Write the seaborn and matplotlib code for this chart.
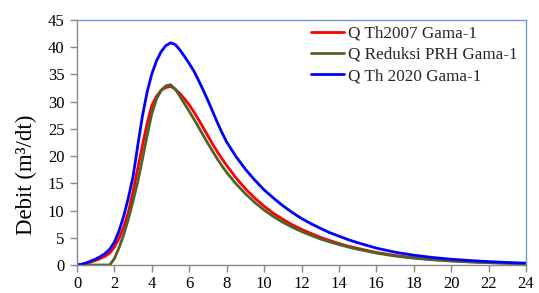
import numpy as np
import pandas as pd
import matplotlib
matplotlib.use("Agg")
import matplotlib.pyplot as plt
import seaborn as sns

# Time (hours)
t = ([0, 0.25, 0.5, 0.75, 1, 1.25, 1.5, 1.75, 2, 2.25, 2.5, 2.75, 3, 3.25, 3.5, 3.75,
      4, 4.25, 4.5, 4.75, 5, 5.25, 5.5, 5.75, 6, 6.25, 6.5, 6.75, 7, 7.25, 7.5, 7.75, 8]
     + [8.5, 9, 9.5, 10, 10.5, 11, 11.5, 12, 12.5, 13, 13.5, 14, 14.5]
     + [15, 16, 17, 18, 19, 20, 21, 22, 23, 24])

q_2007 = ([0, 0.1, 0.3, 0.55, 0.85, 1.2, 1.6, 2.2, 3.3, 4.9, 7.0, 9.8, 13.5, 17.8, 22.0, 26.0,
           29.3, 31.0, 32.1, 32.6, 32.8, 32.3, 31.5, 30.5, 29.4, 28.1, 26.7, 25.2, 23.7, 22.2, 20.8, 19.5, 18.3]
          + [16.0, 14.0, 12.3, 10.8, 9.5, 8.4, 7.4, 6.55, 5.8, 5.1, 4.5, 3.95, 3.45]
          + [3.05, 2.3, 1.75, 1.33, 1.02, 0.78, 0.6, 0.45, 0.34, 0.26])

q_prh = ([0, 0, 0, 0, 0, 0, 0, 0, 1.2, 3.2, 5.6, 8.5, 11.8, 15.3, 19.5, 23.8,
          27.8, 30.5, 32.1, 32.9, 33.1, 32.3, 31.0, 29.6, 28.2, 26.8, 25.3, 23.8, 22.3, 20.9, 19.5, 18.2, 17.0]
         + [14.9, 13.1, 11.5, 10.1, 8.9, 7.85, 6.95, 6.15, 5.45, 4.8, 4.25, 3.75, 3.3]
         + [2.9, 2.2, 1.65, 1.25, 0.96, 0.73, 0.56, 0.42, 0.32, 0.24])

q_2020 = ([0, 0.15, 0.4, 0.75, 1.1, 1.55, 2.1, 2.9, 4.2, 6.3, 9.0, 12.4, 16.3, 22.0, 27.4, 31.8,
           35.1, 37.5, 39.2, 40.3, 40.8, 40.5, 39.5, 38.3, 37.0, 35.6, 33.9, 32.1, 30.2, 28.2, 26.2, 24.3, 22.6]
          + [19.9, 17.6, 15.6, 13.8, 12.3, 10.9, 9.65, 8.55, 7.6, 6.75, 5.95, 5.3, 4.65]
          + [4.1, 3.1, 2.35, 1.8, 1.38, 1.06, 0.82, 0.62, 0.46, 0.34])

labels = ["Q Th2007 Gama-1", "Q Reduksi PRH Gama-1", "Q Th 2020 Gama-1"]
colors = ["#FF0000", "#4F6228", "#0000FF"]

df = pd.concat([
    pd.DataFrame({"t": t, "q": q_2007, "seri": labels[0]}),
    pd.DataFrame({"t": t, "q": q_prh, "seri": labels[1]}),
    pd.DataFrame({"t": t, "q": q_2020, "seri": labels[2]}),
], ignore_index=True)

sns.set_theme(style="white")
plt.rcParams["font.family"] = ["Liberation Serif", "DejaVu Serif"]

fig = plt.figure(figsize=(5.39, 2.93), dpi=100)
ax = fig.add_axes([77 / 539, 28 / 293, (526 - 77) / 539, (265 - 20) / 293])

sns.lineplot(data=df, x="t", y="q", hue="seri", palette=dict(zip(labels, colors)),
             hue_order=labels, linewidth=2.0, ax=ax, sort=False, estimator=None)

ax.set_xlim(0, 24)
ax.set_ylim(0, 45)
ax.set_xticks(np.arange(0, 25, 2))
ax.set_yticks(np.arange(0, 46, 5))
ax.set_xlabel("")
ax.set_ylabel("Debit (m³/dt)", fontsize=16.5, color="black")
ax.yaxis.set_label_coords(-0.089, 0.367)

for s in ["left", "bottom"]:
    ax.spines[s].set_color("#898989")
    ax.spines[s].set_linewidth(1.0)
for s in ["top", "right"]:
    ax.spines[s].set_color("#6C9BD2")
    ax.spines[s].set_linewidth(1.0)

ax.tick_params(axis="both", which="major", direction="out", length=5, width=1.0,
               color="#898989", labelsize=12, labelcolor="black")
ax.tick_params(axis="x", bottom=True, pad=3)
ax.tick_params(axis="y", left=True, pad=4)

leg = ax.legend(loc="upper right", frameon=False, fontsize=12.3, handlelength=1.9,
                handletextpad=0.25, labelspacing=0.3, borderaxespad=0.3,
                bbox_to_anchor=(1.008, 1.025))
for line in leg.get_lines():
    line.set_linewidth(2.0)

fig.savefig("out.png", dpi=100)
